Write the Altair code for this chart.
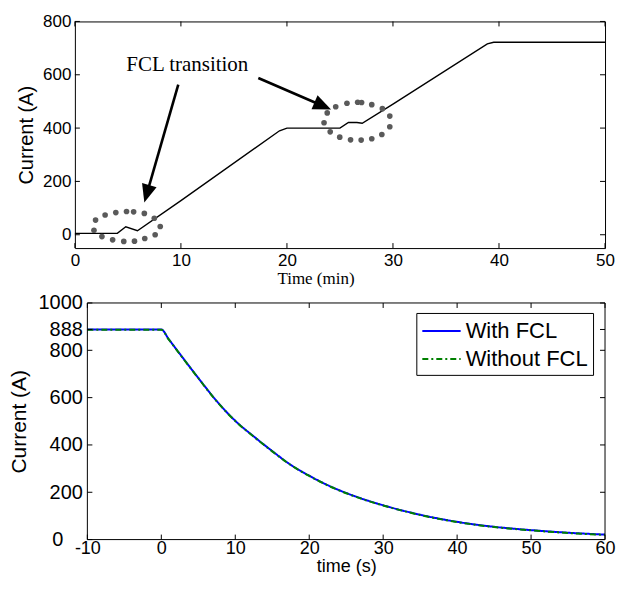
import math
import altair as alt
import pandas as pd

# ---------------- data ----------------
# Top panel: charging current vs time (min)
ramp_time = [0, 4.0, 4.8, 5.9, 10, 19.3, 20.0, 25.0, 25.8, 26.6, 27.1, 30, 38.9, 39.5, 50]
ramp_current = [5, 5, 30, 15, 128, 390, 400, 400, 421, 421, 418, 490, 716, 722, 722]

# dotted ellipses marking the FCL transitions
ell1_t = [1.8, 1.95, 2.85, 3.86, 4.87, 5.54, 6.55, 7.49, 8.05, 7.57, 6.59, 5.62, 4.61, 3.56, 2.55]
ell1_v = [17, 55, 74, 83, 87, 86, 80, 62, 31, 0, -14, -24, -25, -19, -7]
ell2_t = [23.5, 23.8, 24.6, 25.66, 26.67, 27.04, 28.0, 29.0, 29.7, 29.7, 28.95, 28.0, 27.0, 26.0, 24.98, 24.08]
ell2_v = [420, 457, 480, 493, 497, 496, 488, 473, 445, 405, 376, 360, 355, 356, 366, 386]

# annotation arrows (start and tip in data units)
arrow_start_t = [9.75, 17.3]
arrow_start_v = [563, 588]
arrow_tip_t = [6.55, 24.16]
arrow_tip_v = [121, 470]

label_text = ["FCL transition"]
label_t = [10.6]
label_v = [637]

# Bottom panel: current decay vs time (s)
decay_time = [-10, -5, 0, 1, 2.5, 5, 7.5, 10, 12.5, 15, 17.5, 20, 22.5, 25, 27.5, 30, 35, 40, 45, 50, 55, 60]
with_fcl = [888, 888, 888, 847, 785, 683, 585, 502, 436, 374, 316, 270, 230, 197, 169, 145, 105, 75, 54, 40, 29, 21]
without_fcl = [887, 887, 887, 846, 784, 682, 584, 501, 435, 373, 315, 269, 229, 196, 168, 144, 104, 74, 53, 39, 28, 20]
series_names = ["With FCL", "Without FCL"]

top_xticks = [0, 10, 20, 30, 40, 50]
top_yticks = [0, 200, 400, 600, 800]
bot_xticks = [-10, 0, 10, 20, 30, 40, 50, 60]
bot_yticks = [0, 200, 400, 600, 800, 888, 1000]
bot_zero_label = ["0"]          # the "0" label sits further left in the reference
bot_zero_value = [0]

# ---------------- sizes / styles ----------------
W = 531            # both panels share the same plot-group width
H1 = 227
H2 = 237
SHIFT = 12.5       # bottom frame starts this many px right of the top frame
W2 = W - SHIFT
TOP_X = [0, 50]
TOP_Y = [-50, 800]
BOT_X = [-10, 60]
BOT_Y = [0, 1000]
BOT_X_EXT = [BOT_X[0] - SHIFT * (BOT_X[1] - BOT_X[0]) / W2, BOT_X[1]]
TICK = 5
SANS = "Liberation Sans"
SERIF = "Liberation Serif"

# ---------------- top panel ----------------
xs1 = alt.Scale(domain=TOP_X, nice=False, zero=False)
ys1 = alt.Scale(domain=TOP_Y, nice=False, zero=False)
ax1 = alt.Axis(values=top_xticks, title="Time (min)", titleFont=SERIF, titleFontSize=17,
               labelFontSize=17, labelPadding=4, titlePadding=2, labelFlush=False,
               titleX=241, domain=False, ticks=False, grid=False, labels=True)
ay1 = alt.Axis(values=top_yticks, title="Current (A)", titleFontSize=20,
               labelFontSize=17, labelPadding=4, titlePadding=6,
               domain=False, ticks=False, grid=False, labels=True)
X1 = lambda f="t": alt.X(f"{f}:Q", scale=xs1, axis=ax1)
Y1 = lambda f="I": alt.Y(f"{f}:Q", scale=ys1, axis=ay1)

ramp_df = pd.DataFrame({"t": ramp_time, "I": ramp_current})
dots_df = pd.DataFrame({"t": ell1_t + ell2_t, "I": ell1_v + ell2_v})

kx = W / (TOP_X[1] - TOP_X[0])
ky = H1 / (TOP_Y[1] - TOP_Y[0])
shaft_rows, head_rows = [], []
for st, sv, tt, tv in zip(arrow_start_t, arrow_start_v, arrow_tip_t, arrow_tip_v):
    dx = (tt - st) * kx
    dy = -(tv - sv) * ky  # screen y grows downward
    ang = math.degrees(math.atan2(dx, -dy)) % 360
    L = math.hypot(dx, dy)
    ux, uy = dx / L, dy / L
    back = 10
    shaft_rows.append({"t": st, "I": sv, "t2": tt - back * ux / kx, "I2": tv + back * uy / ky})
    head_rows.append({"t": tt, "I": tv, "ang": ang})
shaft_df = pd.DataFrame(shaft_rows)
head_df = pd.DataFrame(head_rows)
text_df = pd.DataFrame({"t": label_t, "I": label_v, "txt": label_text})

main_top = alt.Chart(ramp_df).mark_line(color="black", strokeWidth=1.4).encode(x=X1(), y=Y1())

ytk1 = pd.DataFrame({"I": top_yticks})
xtk1 = pd.DataFrame({"t": top_xticks})
ticks_top = [
    alt.Chart(ytk1).mark_rule(color="black").encode(y=Y1(), x=alt.value(0), x2=alt.value(TICK)),
    alt.Chart(ytk1).mark_rule(color="black").encode(y=Y1(), x=alt.value(W), x2=alt.value(W - TICK)),
    alt.Chart(xtk1).mark_rule(color="black").encode(x=X1(), y=alt.value(H1), y2=alt.value(H1 - TICK)),
    alt.Chart(xtk1).mark_rule(color="black").encode(x=X1(), y=alt.value(0), y2=alt.value(TICK)),
]

dots = alt.Chart(dots_df).mark_circle(color="#5a5a5a", size=32, opacity=1).encode(x=X1(), y=Y1())

shafts = alt.Chart(shaft_df).mark_rule(color="black", strokeWidth=2.6).encode(
    x=X1(), y=Y1(), x2="t2:Q", y2="I2:Q")

heads = alt.Chart(head_df).mark_point(
    shape="M0,0L-0.42,1L0.42,1Z", filled=True, color="black", opacity=1, size=1296
).encode(x=X1(), y=Y1(), angle=alt.Angle("ang:Q", scale=None))

label = alt.Chart(text_df).mark_text(
    font=SERIF, fontSize=21, align="center", baseline="middle", color="black"
).encode(x=X1(), y=Y1(), text="txt:N")

top = alt.layer(main_top, *ticks_top, dots, shafts, heads, label).properties(
    width=W, height=H1, view=alt.ViewBackground(stroke="black", strokeWidth=1))

# ---------------- bottom panel ----------------
xs2 = alt.Scale(domain=BOT_X_EXT, nice=False, zero=False)
ys2 = alt.Scale(domain=BOT_Y, nice=False, zero=False)
ax2 = alt.Axis(values=bot_xticks, title="time (s)", titleFontSize=18, labelFontSize=18,
               labelPadding=0, titlePadding=0, labelFlush=False, labelExpr="'' + datum.value",
               titleX=SHIFT + W2 / 2, domain=False, ticks=False, grid=False, labels=True)
ay2 = alt.Axis(values=bot_yticks, title="Current (A)", titleFontSize=21, labelFontSize=20,
               labelPadding=5, titlePadding=8, labelOverlap=False, offset=-SHIFT,
               labelExpr="datum.value == 0 ? '' : '' + datum.value",
               domain=False, ticks=False, grid=False, labels=True)
X2 = lambda f="t": alt.X(f"{f}:Q", scale=xs2, axis=ax2)
Y2 = lambda f="I": alt.Y(f"{f}:Q", scale=ys2, axis=ay2)

decay_df = pd.concat([
    pd.DataFrame({"t": decay_time, "I": with_fcl, "series": series_names[0]}),
    pd.DataFrame({"t": decay_time, "I": without_fcl, "series": series_names[1]}),
], ignore_index=True)

SYM = 24  # legend symbol box (px); the drawn line is 1.6x longer
leg = alt.Legend(
    title=None, orient="none", legendX=342, legendY=10,
    strokeColor="black", fillColor="white", padding=5, cornerRadius=0,
    labelFont=SANS, labelFontSize=22, labelColor="black",
    symbolType="M-1.6,0L1.6,0", symbolSize=SYM * SYM, symbolStrokeWidth=2,
    symbolOffset=0.3 * SYM, labelOffset=0.3 * SYM + 4,
    rowPadding=4, labelLimit=300)

lines = alt.Chart(decay_df).mark_line(strokeWidth=2, interpolate="monotone").encode(
    x=X2(), y=Y2(),
    color=alt.Color("series:N", scale=alt.Scale(domain=series_names, range=["#0000ff", "#008000"]),
                    legend=leg),
    strokeDash=alt.StrokeDash("series:N", scale=alt.Scale(domain=series_names,
                                                          range=[[1, 0], [6, 3, 2, 3]]),
                              legend=leg),
)

ytk2 = pd.DataFrame({"I": bot_yticks})
xtk2 = pd.DataFrame({"t": bot_xticks})
frame_df = pd.DataFrame({"t": [BOT_X[0]], "t2": [BOT_X[1]]})
frame_r = pd.DataFrame({"t": [BOT_X[1]]})
zero_df = pd.DataFrame({"I": bot_zero_value, "txt": bot_zero_label})
ticks_bot = [
    alt.Chart(ytk2).mark_rule(color="black").encode(
        y=Y2(), x=alt.value(SHIFT), x2=alt.value(SHIFT + TICK)),
    alt.Chart(ytk2).mark_rule(color="black").encode(
        y=Y2(), x=alt.value(W), x2=alt.value(W - TICK)),
    alt.Chart(xtk2).mark_rule(color="black").encode(
        x=X2(), y=alt.value(H2), y2=alt.value(H2 - TICK)),
    alt.Chart(xtk2).mark_rule(color="black").encode(
        x=X2(), y=alt.value(0), y2=alt.value(TICK)),
    # frame of the bottom panel
    alt.Chart(frame_df).mark_rule(color="black").encode(x=X2(), x2="t2:Q", y=alt.value(0)),
    alt.Chart(frame_df).mark_rule(color="black").encode(x=X2(), x2="t2:Q", y=alt.value(H2)),
    alt.Chart(frame_df).mark_rule(color="black").encode(x=X2(), y=alt.value(0), y2=alt.value(H2)),
    alt.Chart(frame_r).mark_rule(color="black").encode(x=X2(), y=alt.value(0), y2=alt.value(H2)),
    # the "0" tick label, set further left as in the reference
    alt.Chart(zero_df).mark_text(font=SANS, fontSize=20, align="right", baseline="middle",
                                 color="black").encode(
        y=Y2(), x=alt.value(SHIFT - 5 - 19), text="txt:N"),
]

bottom = alt.layer(lines, *ticks_bot).properties(
    width=W, height=H2, view=alt.ViewBackground(stroke=None))

chart = alt.vconcat(top, bottom, spacing=6).resolve_legend(
    color="independent", strokeDash="independent"
).properties(
    padding={"left": 1, "top": 3, "right": 0, "bottom": 0},
    background="white",
).configure_view(stroke=None).configure_axis(
    labelFont=SANS, titleFont=SANS, labelColor="black", titleColor="black",
    titleFontWeight="normal",
)

chart.save("out.html", embed_options={"renderer": "svg", "actions": False})
